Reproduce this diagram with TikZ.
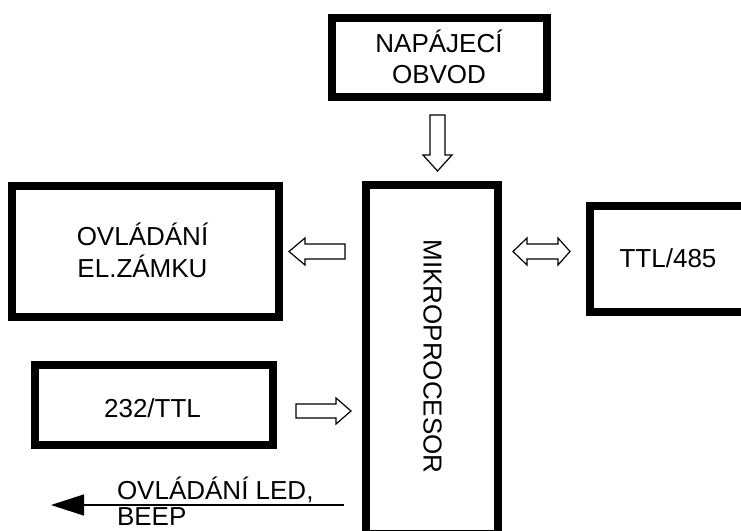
\documentclass[tikz,border=0pt]{standalone}
\usepackage{fontspec}
\setmainfont{Liberation Sans}
\usetikzlibrary{arrows.meta}
\tikzset{
  blockbox/.style={draw, line width=8pt, inner sep=0pt, line join=miter, fill=none},
  lbl/.style={inner sep=0pt, outer sep=0pt, font=\fontsize{26}{31}\selectfont, anchor=base},
  barrow/.style={draw, line width=1.2pt, fill=white, line join=miter},
  ledarrow/.style={line width=1.5pt, -{Triangle[length=33pt,width=21pt]}}
}
\begin{document}
\begin{tikzpicture}[x=1pt,y=-1pt]
\useasboundingbox (0,0) rectangle (741,530);
\clip (0,0) rectangle (741,530);
\fill[white] (0,0) rectangle (741,530);
% boxes
\node[blockbox, minimum width=215pt, minimum height=79pt] (napajeci) at (439.5,57.5) {};
\node[blockbox, minimum width=132pt, minimum height=349pt] (mikro) at (432,359.5) {};
\node[blockbox, minimum width=267pt, minimum height=131pt] (zamek) at (145.5,251.5) {};
\node[blockbox, minimum width=238pt, minimum height=80pt] (rs232) at (154,405) {};
\node[blockbox, minimum width=180pt, minimum height=106pt] (ttl485) at (680,259) {};
% texts
\node[lbl] (t1) at (439,52) {NAPÁJECÍ};
\node[lbl] (t2) at (439,83) {OBVOD};
\node[lbl] (t3) at (142.5,245) {OVLÁDÁNÍ};
\node[lbl] (t4) at (142.5,277) {EL.ZÁMKU};
\node[lbl] (t5) at (152.5,417) {232/TTL};
\node[lbl] (t6) at (668,267) {TTL/485};
\node[lbl, anchor=center, rotate=-90] (t7) at (432.5,356.5) {MIKROPROCESOR};
\node[lbl, anchor=base west] (t8) at (117,499) {OVLÁDÁNÍ LED,};
\node[lbl, anchor=base west] (t9) at (117,525) {BEEP};
% block arrows
\draw[barrow] (430,115) -- (445,115) -- (445,155) -- (452,155) -- (437.5,171) -- (423,155) -- (430,155) -- cycle;
\draw[barrow] (345,244) -- (305,244) -- (305,238) -- (289,251.5) -- (305,265) -- (305,259) -- (345,259) -- cycle;
\draw[barrow] (513,251.5) -- (527,238) -- (527,244) -- (558,244) -- (558,238) -- (570,251.5) -- (558,265) -- (558,259) -- (527,259) -- (527,265) -- cycle;
\draw[barrow] (296,404) -- (336,404) -- (336,398) -- (351,411) -- (336,424) -- (336,418) -- (296,418) -- cycle;
% LED line
\coordinate (ledstart) at (344,505);
\coordinate (ledend) at (51,505);
\draw[ledarrow] (ledstart) -- (ledend);
\end{tikzpicture}
\end{document}
